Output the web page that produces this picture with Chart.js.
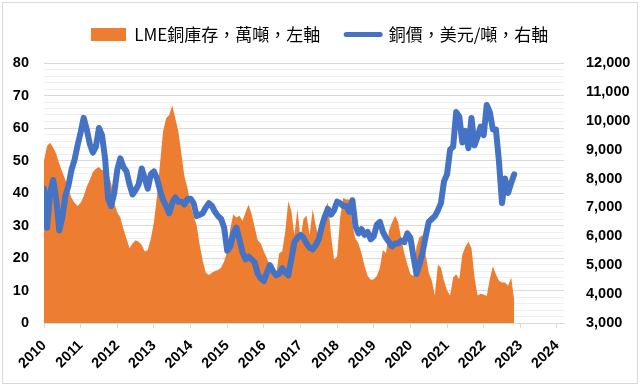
<!DOCTYPE html>
<html>
<head>
<meta charset="utf-8">
<script src="https://cdn.jsdelivr.net/npm/chart.js@4.4.1/dist/chart.umd.min.js"></script>
<style>
  html, body { margin: 0; padding: 0; background: #fff; }
  #wrap { position: relative; width: 640px; height: 386px; }
  #frame { position: absolute; left: 2px; top: 2px; right: 2px; bottom: 2px; border: 1px solid #d9d9d9; pointer-events: none; }
</style>
</head>
<body>
<div id="wrap">
  <canvas id="copperChart" width="640" height="386"></canvas>
  <div id="frame"></div>
</div>
<script>
// Monthly readings, Jan 2010 .. Nov 2022
const yearLabels = ['2010', '2011', '2012', '2013', '2014', '2015', '2016',
                    '2017', '2018', '2019', '2020', '2021', '2022', '2023', '2024'];

// LME copper stocks, 10k tonnes (left axis)
const stock = [
    50, 54.5, 55.5, 54, 52, 49, 46.5, 44, 41, 38.5, 37, 36,          // 2010
    37, 39, 42, 44, 46.5, 47.5, 48, 47, 47.5, 46, 43, 37,            // 2011
    34, 32.5, 29, 26, 23, 24.5, 25.5, 25, 24, 22, 22.5, 26,          // 2012
    31, 39, 49, 59, 63, 64, 67, 63, 59, 52, 45, 41.5,                // 2013
    36.5, 33, 30, 24, 19, 15.5, 14.8, 15.5, 16, 16.3, 17, 19,        // 2014
    22, 29, 33.5, 32.5, 33, 31.5, 34, 36.5, 33.5, 29.5, 25.5, 24.5,  // 2015
    22, 20, 17.5, 15.5, 14.5, 21.5, 22, 28, 37.5, 34.5, 27, 35,      // 2016
    26, 32, 33, 27, 35, 30, 26, 30, 35.5, 37, 27, 19.5,              // 2017
    20.5, 32.5, 38.5, 38, 38, 30, 26, 24.5, 21.5, 17.5, 14.5, 13.3,  // 2018
    13.5, 14.5, 17, 22.5, 21.5, 28.5, 31, 33, 31, 26, 21.5, 18,      // 2019
    15, 14.5, 23.5, 26.5, 27, 21, 15.5, 13, 8.5, 18, 17, 13,         // 2020
    10, 8.5, 14, 15, 13.5, 21, 23.5, 25, 23, 14, 8.5, 9,             // 2021
    8.8, 8.3, 13.5, 17.5, 15, 13, 12.5, 12.5, 11.5, 14, 7            // 2022
];

// Copper price, USD/tonne (right axis)
const price = [
    7650, 6300, 7500, 7950, 7300, 6200, 6650, 7400, 7750, 8300, 8650, 9150,      // 2010
    9600, 10100, 9700, 9200, 8900, 9100, 9750, 9500, 8700, 7300, 7050, 7500,     // 2011
    8300, 8700, 8400, 8250, 7800, 7450, 7600, 7800, 8350, 8000, 7650, 8150,      // 2012
    8250, 8000, 7600, 7250, 7050, 6800, 7150, 7350, 7200, 7200, 7100, 7300,      // 2013
    7300, 7150, 6700, 6750, 6800, 7000, 7150, 7050, 6850, 6700, 6600, 6300,      // 2014
    5500, 5650, 6100, 6300, 5900, 5450, 5200, 5300, 5200, 5100, 4700, 4550,      // 2015
    4450, 4750, 5000, 4800, 4650, 4700, 4900, 4750, 4650, 5200, 5800, 5950,      // 2016
    6050, 5950, 5750, 5600, 5550, 5700, 5900, 6350, 6700, 6950, 6750, 6900,      // 2017
    7200, 7150, 7050, 7050, 6850, 7250, 6350, 6100, 6250, 6050, 6150, 5900,      // 2018
    6000, 6400, 6500, 6150, 5950, 5800, 5650, 5750, 5750, 5850, 5800, 6100,      // 2019
    5950, 5300, 4700, 5050, 5450, 6000, 6500, 6600, 6700, 6900, 7150, 7900,      // 2020
    8150, 9000, 9100, 10300, 10150, 9250, 9650, 9050, 10100, 9150, 9450, 9800,   // 2021
    9500, 10550, 10300, 9700, 9700, 8600, 7150, 8000, 7500, 7850, 8150           // 2022
];

const ORANGE = '#ED7D31';
const BLUE = '#4472C4';

Chart.defaults.font.family = "'Liberation Sans', Arial, sans-serif";
Chart.defaults.color = '#000';

// orange legend swatch
const swatch = document.createElement('canvas');
swatch.width = 35;
swatch.height = 13;
const sctx = swatch.getContext('2d');
sctx.fillStyle = ORANGE;
sctx.fillRect(0, 0, 35, 13);

// reserve room above the plot for the legend
const legendSpace = {
    id: 'legendSpace',
    beforeInit(chart) {
        const fit = chart.legend.fit;
        chart.legend.fit = function () {
            fit.call(this);
            this.height = 63;
        };
    }
};

const tickFont = { family: "'Liberation Sans', Arial, sans-serif", size: 14.5, weight: 'bold' };

new Chart(document.getElementById('copperChart'), {
    type: 'line',
    data: {
        datasets: [{
            label: 'LME銅庫存，萬噸，左軸',
            data: stock.map((v, i) => ({ x: i, y: v })),
            yAxisID: 'y',
            backgroundColor: ORANGE,
            borderColor: 'rgba(0,0,0,0)',
            borderWidth: 0,
            fill: 'origin',
            pointRadius: 0,
            tension: 0,
            order: 2
        }, {
            label: '銅價，美元/噸，右軸',
            data: price.map((v, i) => ({ x: i, y: v })),
            yAxisID: 'y1',
            borderColor: BLUE,
            backgroundColor: BLUE,
            borderWidth: 6,
            borderJoinStyle: 'round',
            borderCapStyle: 'round',
            fill: false,
            pointRadius: 0,
            tension: 0,
            order: 1
        }]
    },
    options: {
        responsive: false,
        animation: false,
        layout: { padding: 0 },
        plugins: {
            tooltip: { enabled: false },
            legend: {
                position: 'top',
                labels: {
                    usePointStyle: true,
                    pointStyleWidth: 34,
                    boxHeight: 13,
                    padding: 26,
                    color: '#111',
                    font: { family: "'Noto Sans CJK TC', sans-serif", size: 17 },
                    generateLabels: (chart) => chart.data.datasets.map((ds, i) => ({
                        text: ds.label,
                        datasetIndex: i,
                        pointStyle: i === 0 ? swatch : 'line',
                        fillStyle: ds.backgroundColor,
                        strokeStyle: i === 0 ? ORANGE : BLUE,
                        lineWidth: i === 0 ? 0 : 5,
                        lineCap: 'round',
                        hidden: false
                    }))
                }
            }
        },
        scales: {
            x: {
                type: 'linear',
                min: 0,
                max: 170.3,
                afterFit: (s) => { s.height = 63; },
                grid: { drawOnChartArea: false, drawTicks: true, tickLength: 5, color: '#d9d9d9' },
                border: { color: '#d9d9d9' },
                ticks: {
                    stepSize: 12,
                    autoSkip: false,
                    includeBounds: false,
                    maxRotation: 45,
                    minRotation: 45,
                    padding: 9,
                    font: { family: "'Liberation Sans', Arial, sans-serif", size: 14.5, weight: 'bold' },
                    callback: (v) => yearLabels[v / 12] ?? ''
                }
            },
            y: {
                position: 'left',
                min: 0,
                max: 80,
                afterFit: (s) => { s.width = 44; },
                grid: {
                    drawTicks: false,
                    color: (ctx) => (ctx.tick && ctx.tick.value % 10 === 0) ? '#d9d9d9' : '#efefef'
                },
                border: { display: false },
                ticks: {
                    stepSize: 2,
                    autoSkip: false,
                    padding: 15,
                    font: tickFont,
                    callback: (v) => v % 10 === 0 ? v : ''
                }
            },
            y1: {
                position: 'right',
                min: 3000,
                max: 12000,
                afterFit: (s) => { s.width = 76; },
                grid: { display: false },
                border: { display: false },
                ticks: {
                    stepSize: 1000,
                    padding: 14,
                    font: tickFont,
                    callback: (v) => v.toLocaleString('en-US')
                }
            }
        }
    },
    plugins: [legendSpace]
});
</script>
</body>
</html>
